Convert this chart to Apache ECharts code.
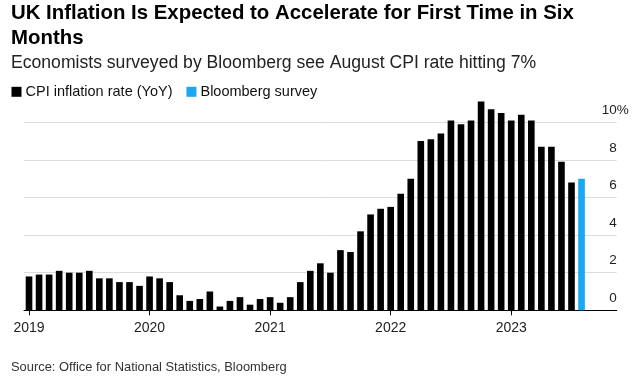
<!DOCTYPE html>
<html>
<head>
<meta charset="utf-8">
<script src="https://cdn.jsdelivr.net/npm/echarts@6/dist/echarts.min.js"></script>
<style>
html,body{margin:0;padding:0;background:#fff;}
#chart{width:638px;height:379px;}
</style>
</head>
<body>
<div id="chart"></div>
<script>
// Monthly categories Jan 2019 .. Nov 2023 (axis extends past the last bar)
var years = [2019, 2020, 2021, 2022, 2023];
var months = [];
years.forEach(function (y) {
  for (var m = 1; m <= 12; m++) {
    if (y === 2023 && m > 11) break;
    months.push(y + '-' + (m < 10 ? '0' + m : m));
  }
});

// CPI inflation rate (YoY), Jan 2019 .. Jul 2023
var cpi = [
  1.8, 1.9, 1.9, 2.1, 2.0, 2.0, 2.1, 1.7, 1.7, 1.5, 1.5, 1.3,
  1.8, 1.7, 1.5, 0.8, 0.5, 0.6, 1.0, 0.2, 0.5, 0.7, 0.3, 0.6,
  0.7, 0.4, 0.7, 1.5, 2.1, 2.5, 2.0, 3.2, 3.1, 4.2, 5.1, 5.4,
  5.5, 6.2, 7.0, 9.0, 9.1, 9.4, 10.1, 9.9, 10.1, 11.1, 10.7, 10.5,
  10.1, 10.4, 10.1, 8.7, 8.7, 7.9, 6.8
];
// Bloomberg survey for Aug 2023
var surveyMonth = '2023-08';
var surveyValue = 7.0;

var yTicks = [0, 2, 4, 6, 8, 10];

var cpiData = months.map(function (m, i) { return i < cpi.length ? cpi[i] : null; });
var surveyData = months.map(function (m) { return m === surveyMonth ? surveyValue : null; });

var chart = echarts.init(document.getElementById('chart'), null, {renderer: 'canvas'});
var FONT = '"Liberation Sans", Arial, sans-serif';

chart.setOption({
  animation: false,
  backgroundColor: '#fff',
  title: [
    {
      text: 'UK Inflation Is Expected to Accelerate for First Time in Six\nMonths',
      left: 11, top: 0.5, padding: 0,
      textStyle: {fontFamily: FONT, fontSize: 20.4, fontWeight: 'bold', color: '#000', lineHeight: 25.5}
    },
    {
      text: 'Economists surveyed by Bloomberg see August CPI rate hitting 7%',
      left: 11, top: 54.5, padding: 0,
      textStyle: {fontFamily: FONT, fontSize: 17.6, fontWeight: 'normal', color: '#222'}
    },
    {
      text: 'Source: Office for National Statistics, Bloomberg',
      left: 11, top: 361, padding: 0,
      textStyle: {fontFamily: FONT, fontSize: 12.9, fontWeight: 'normal', color: '#333'}
    }
  ],
  legend: {
    left: 11.5, top: 84.3, padding: 0,
    icon: 'rect', itemWidth: 10, itemHeight: 10, itemGap: 14,
    textStyle: {fontFamily: FONT, fontSize: 14.5, color: '#111', padding: [0, 0, 0, -1]},
    data: ['CPI inflation rate (YoY)', 'Bloomberg survey']
  },
  grid: {left: 24, right: 21.3, top: 84.7, bottom: 68.7, containLabel: false, outerBoundsMode: 'none'},
  xAxis: {
    type: 'category',
    data: months,
    boundaryGap: true,
    axisLine: {show: true, lineStyle: {color: '#000', width: 1}},
    axisTick: {
      show: true, length: 5, alignWithLabel: true,
      interval: function (i, v) { return v.slice(5) === '01'; },
      lineStyle: {color: '#000'}
    },
    axisLabel: {
      interval: function (i, v) { return v.slice(5) === '01'; },
      formatter: function (v) { return v.slice(0, 4); },
      margin: 11, fontFamily: FONT, fontSize: 14, color: '#222'
    },
    splitLine: {show: false}
  },
  yAxis: {
    type: 'value',
    position: 'right',
    min: 0, max: 12, interval: 2,
    axisLine: {show: false},
    axisTick: {show: false},
    splitLine: {show: true, lineStyle: {color: ['#dcdcdc', '#dcdcdc', '#dcdcdc', '#dcdcdc', '#dcdcdc', '#dcdcdc', 'rgba(0,0,0,0)'], width: 1}},
    axisLabel: {
      inside: true, margin: -12, align: 'right', verticalAlign: 'bottom',
      showMaxLabel: false,
      padding: [0, 0, 5, 0],
      fontFamily: FONT, fontSize: 13.5, color: '#222',
      formatter: function (v) {
        if (yTicks.indexOf(v) < 0) return '';
        return v === 10 ? '{n|' + v + '}{p|%}' : '{n|' + v + '}{h|%}';
      },
      rich: {
        n: {fontFamily: FONT, fontSize: 13.5, color: '#222'},
        p: {fontFamily: FONT, fontSize: 13.5, color: '#222'},
        h: {fontFamily: FONT, fontSize: 13.5, color: 'rgba(0,0,0,0)'}
      }
    }
  },
  series: [
    {
      name: 'CPI inflation rate (YoY)',
      type: 'bar',
      data: cpiData,
      barWidth: '66%',
      barGap: '-100%',
      itemStyle: {color: '#000'}
    },
    {
      name: 'Bloomberg survey',
      type: 'bar',
      data: surveyData,
      barWidth: '66%',
      barGap: '-100%',
      itemStyle: {color: '#1aa8f0'}
    }
  ]
});
</script>
</body>
</html>
